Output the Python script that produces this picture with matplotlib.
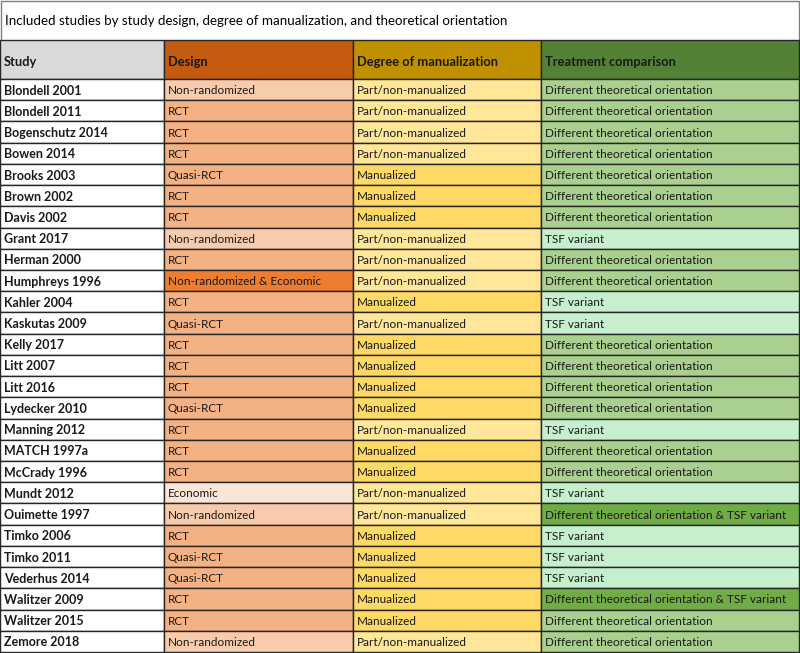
import matplotlib.pyplot as plt
from matplotlib.patches import Rectangle

plt.rcParams['font.family'] = ['Lato', 'DejaVu Sans']

# Table content
title = 'Included studies by study design, degree of manualization, and theoretical orientation'
headers = ['Study', 'Design', 'Degree of manualization', 'Treatment comparison']

studies = ['Blondell 2001', 'Blondell 2011', 'Bogenschutz 2014', 'Bowen 2014', 'Brooks 2003',
           'Brown 2002', 'Davis 2002', 'Grant 2017', 'Herman 2000', 'Humphreys 1996',
           'Kahler 2004', 'Kaskutas 2009', 'Kelly 2017', 'Litt 2007', 'Litt 2016',
           'Lydecker 2010', 'Manning 2012', 'MATCH 1997a', 'McCrady 1996', 'Mundt 2012',
           'Ouimette 1997', 'Timko 2006', 'Timko 2011', 'Vederhus 2014', 'Walitzer 2009',
           'Walitzer 2015', 'Zemore 2018']

NR, RCT, Q, NRE, EC = 'Non-randomized', 'RCT', 'Quasi-RCT', 'Non-randomized & Economic', 'Economic'
design = [NR, RCT, RCT, RCT, Q, RCT, RCT, NR, RCT, NRE, RCT, Q, RCT, RCT, RCT, Q, RCT, RCT, RCT,
          EC, NR, RCT, Q, Q, RCT, RCT, NR]

P, M = 'Part/non-manualized', 'Manualized'
manual = [P, P, P, P, M, M, M, P, P, P, M, P, M, M, M, M, P, M, M, P, P, M, M, M, M, M, P]

D, T, DT = 'Different theoretical orientation', 'TSF variant', 'Different theoretical orientation & TSF variant'
comparison = [D, D, D, D, D, D, D, T, D, D, T, T, D, D, D, D, T, D, D, T, DT, T, T, T, DT, D, D]

# colours
header_colors = ['#d9d9d9', '#c55a11', '#bf9000', '#538135']
design_colors = {NR: '#f8cbad', RCT: '#f4b183', Q: '#f4b183', NRE: '#ed7d31', EC: '#fbe5d6'}
manual_colors = {P: '#ffe699', M: '#ffd966'}
comp_colors = {D: '#a9d08e', T: '#c6efce', DT: '#70ad47'}

col_x = [0, 164, 353, 541, 799]
title_h = 40
head_h = 39
n = len(studies)
row_h = (652 - title_h - head_h) / n

fig = plt.figure(figsize=(8, 6.53), dpi=100)
ax = fig.add_axes([0, 0, 1, 1])
ax.set_xlim(0, 800)
ax.set_ylim(653, 0)
ax.axis('off')

# title block
ax.add_patch(Rectangle((0.5, 0.5), 798.5, title_h, facecolor='white', edgecolor='#7f7f7f', lw=1))
ax.text(5, title_h / 2 + 1, title, fontsize=9.6, va='center', ha='left', color='black')

# header row
for j, h in enumerate(headers):
    x0, x1 = col_x[j], col_x[j + 1]
    ax.add_patch(Rectangle((x0, title_h), x1 - x0, head_h, facecolor=header_colors[j],
                           edgecolor='#262626', lw=1))
    ax.text(x0 + 4, title_h + head_h / 2 + 2, h, fontsize=9.3, fontweight='bold',
            va='center', ha='left', color='#1a1a1a')

# data rows
for i in range(n):
    y0 = title_h + head_h + i * row_h
    cells = [studies[i], design[i], manual[i], comparison[i]]
    fills = ['white', design_colors[design[i]], manual_colors[manual[i]], comp_colors[comparison[i]]]
    for j in range(4):
        x0, x1 = col_x[j], col_x[j + 1]
        ax.add_patch(Rectangle((x0, y0), x1 - x0, row_h, facecolor=fills[j],
                               edgecolor='#262626', lw=1))
        ax.text(x0 + 4, y0 + row_h / 2 + 1, cells[j],
                fontsize=9 if j == 0 else 8.5, fontweight='bold' if j == 0 else 'normal',
                va='center', ha='left', color='#1a1a1a')

fig.savefig('out.png', dpi=100)
